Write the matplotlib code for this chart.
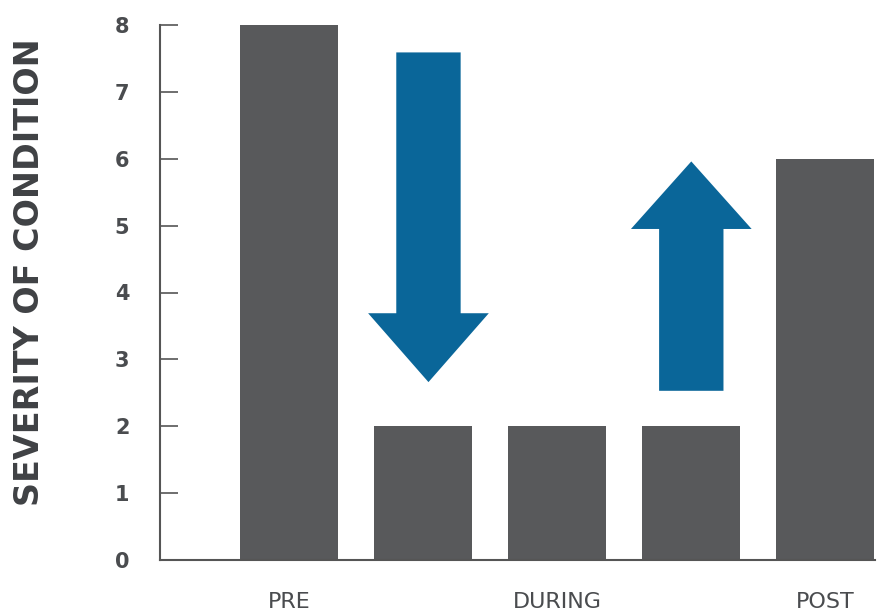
import matplotlib
matplotlib.use("Agg")
import matplotlib.pyplot as plt
from matplotlib.patches import FancyArrow

# ---- data ----
categories = ["PRE", "", "DURING", "", "POST"]
severity = [8, 2, 2, 2, 6]
y_ticks = [0, 1, 2, 3, 4, 5, 6, 7, 8]

# arrows: (x, y_start, y_end, head_length)
down_arrow = (1.04, 7.59, 2.66, 1.03)
up_arrow = (3.0, 2.53, 5.96, 1.01)

bar_color = "#58595b"
arrow_color = "#0a6699"
text_color = "#4a4c4f"

W, H = 896, 615
fig = plt.figure(figsize=(W / 100, H / 100), dpi=100)
ax = fig.add_axes([160 / W, (H - 560) / H, (875 - 160) / W, (560 - 25) / H])

x = list(range(len(severity)))
ax.bar(x, severity, width=0.73, color=bar_color, zorder=2)

for (ax_x, y0, y1, hl) in (down_arrow, up_arrow):
    ax.add_patch(FancyArrow(ax_x, y0, 0, y1 - y0, width=0.48, head_width=0.9,
                            head_length=hl, length_includes_head=True,
                            color=arrow_color, lw=0, zorder=3))

ax.set_xlim(-0.962, 4.37)
ax.set_ylim(0, 8)
ax.set_yticks(y_ticks)
ax.set_yticklabels([str(t) for t in y_ticks], fontsize=15, fontweight="bold",
                   color=text_color)
ax.set_xticks(x)
ax.set_xticklabels(categories, fontsize=16, color=text_color)

ax.tick_params(axis="y", direction="in", length=13, width=1.2, color="#555555", pad=22)
ax.tick_params(axis="x", length=0, pad=23)

for s in ("top", "right"):
    ax.spines[s].set_visible(False)
for s in ("left", "bottom"):
    ax.spines[s].set_color("#555555")
    ax.spines[s].set_linewidth(1.5)

ax.set_ylabel("SEVERITY OF CONDITION", fontsize=24, fontweight="bold", color="#3f4144")
ax.yaxis.set_label_coords(-0.16, 0.538)

fig.savefig("out.png", dpi=100)
